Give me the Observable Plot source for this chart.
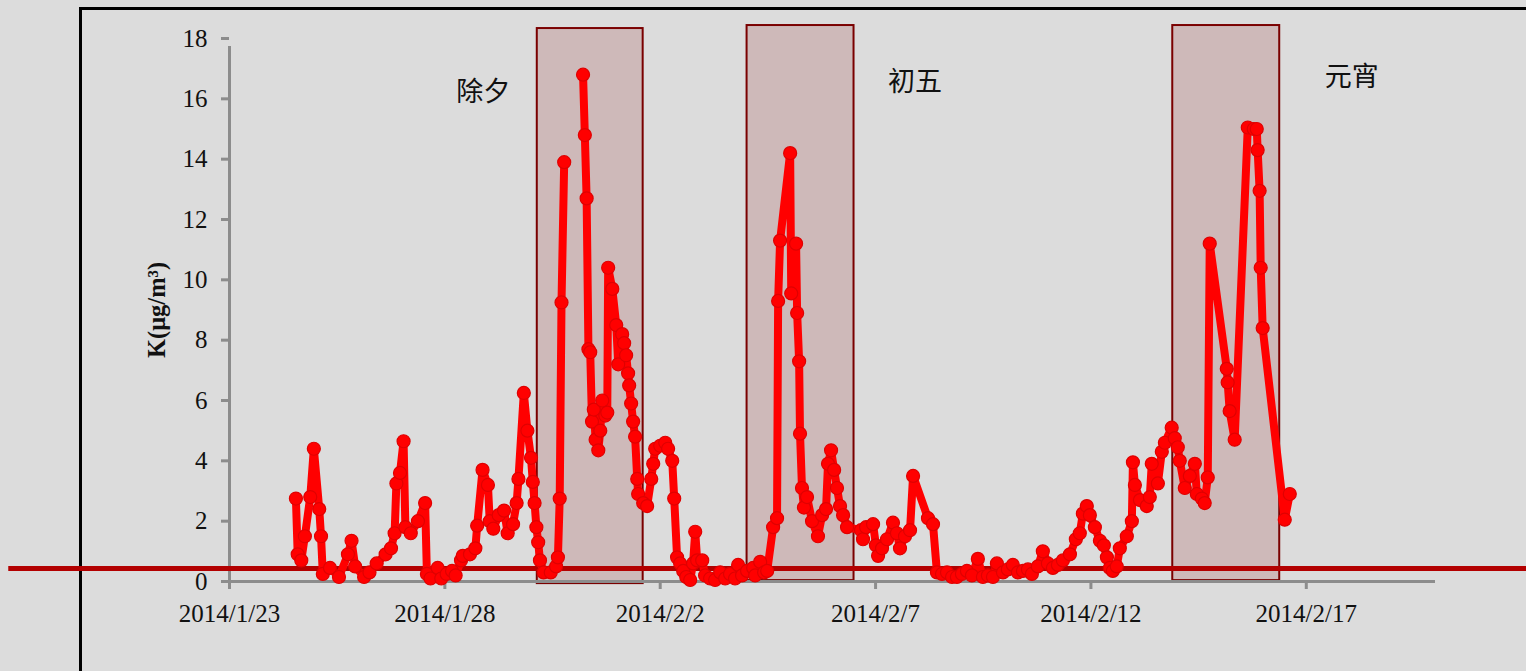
<!DOCTYPE html>
<html>
<head>
<meta charset="utf-8">
<script src="https://cdn.jsdelivr.net/npm/d3@7"></script>
<script src="https://cdn.jsdelivr.net/npm/@observablehq/plot@0.6"></script>
<style>
  html, body { margin: 0; padding: 0; background: #dcdcdc; }
  #wrap { position: relative; width: 1526px; height: 671px; overflow: hidden;
          background: #dcdcdc; }
  #frame { position: absolute; left: 79px; top: 7px; right: -10px; bottom: -10px;
           border-left: 3px solid #000; border-top: 3px solid #000; }
  #chart { position: absolute; left: 0; top: 0; }
</style>
</head>
<body>
<div id="wrap"><div id="frame"></div><div id="chart"></div></div>
<script>
// Hours since 2014/1/23 00:00 and K concentration (µg/m³); null = gap in the record
const hours = [
  37,38,40,42,45,47,50,51,52,56,61,66,68,70,75,78,82,87,90,92,93,95,97,98,101,105,109,110,112,116,118,121,124,126,129,130,134,137,138,141,
  144,145,147,150,153,155,158,160,161,164,166,168,169,170,171,172,173,175,179,182,183,184,185,186.5,
  190,
  197,198,199,200,201,202,203,204,205.5,206.6,207.7,209.4,210.5,211,213.3,215.5,216.6,218.8,219.9,221,222.1,222.7,223.8,224.9,226,227.2,227.7,
  230.5,232.7,235,236.1,237.2,240,242.8,244.4,246.7,247.8,249.4,251.1,252.8,254.5,256.7,258.3,259.5,260.6,263.4,265,267.8,270.6,273.4,
  276.2,278.9,281.7,283.4,285.6,288.4,291.8,292.9,295.7,297.9,299.6,302.9,305.1,305.7,306.8,312.4,313,315.7,316.3,317.4,317.9,319,320.1,
  321.8,324.6,327.9,330.2,332.4,333.5,335.2,336.9,338.5,340.2,341.9,344.1,351.9,353,354.7,358.6,360.2,361.4,363.6,366.4,369.7,371.9,
  373.6,376.4,379.2,380.9,389.2,392,394.2,397,399.8,402.6,405.3,408.1,410.9,413.7,417,419.8,422.6,425.4,427.6,431,433.7,436.5,439.3,
  442.1,444.9,447.1,450.4,453.2,456,458.8,461.6,464.4,468.3,471.6,473.8,475.5,477.7,479.4,482.2,485,487.2,488.9,490.5,492.2,494.4,
  496.1,500,502.8,503.4,504.5,507.3,511.1,512.8,513.9,517.3,519.5,521.2,525,526.7,528.4,529.5,532.3,535.1,537.9,539,541.8,543.4,545.1,
  546.2,555.7,556.2,557.3,560.1,567.4,570.7,572.4,572.9,574,574.6,575.7,588,590.8
];
const kValues = [
  2.75,0.9,0.7,1.5,2.8,4.4,2.4,1.5,0.25,0.45,0.15,0.9,1.35,0.5,0.15,0.3,0.6,0.9,1.1,1.6,3.25,3.6,4.65,1.8,1.6,2.0,2.6,0.25,0.1,0.45,0.1,0.25,0.35,0.2,0.7,0.85,0.9,1.1,1.85,3.7,
  3.2,2.0,1.75,2.2,2.35,1.6,1.9,2.6,3.4,6.25,5.0,4.1,3.3,2.6,1.8,1.3,0.7,0.3,0.3,0.5,0.8,2.75,9.25,13.9,
  null,
  16.8,14.8,12.7,7.7,7.6,5.3,5.7,4.7,4.35,5.0,6.0,5.5,5.6,10.4,9.7,8.5,7.2,8.2,7.9,7.5,6.9,6.5,5.9,5.3,4.8,3.4,2.9,
  2.6,2.5,3.4,3.9,4.4,4.5,4.6,4.4,4.0,2.75,0.8,0.6,0.35,0.15,0.05,0.6,1.65,0.7,0.7,0.2,0.1,0.05,0.3,
  0.1,0.25,0.1,0.55,0.2,0.35,0.45,0.2,0.65,0.3,0.35,1.8,2.1,9.3,11.3,14.2,9.55,11.2,8.9,7.3,4.9,3.1,2.45,
  2.8,2.0,1.5,2.2,2.4,3.9,4.35,3.7,3.1,2.5,2.2,1.8,1.7,1.4,1.8,1.9,1.2,0.85,1.1,1.4,1.95,1.6,
  1.1,1.5,1.7,3.5,2.1,1.9,0.3,0.25,0.3,0.15,0.15,0.25,0.35,0.2,0.75,0.15,0.2,0.15,0.6,0.3,0.4,0.55,0.3,
  0.35,0.4,0.25,0.5,1.0,0.6,0.45,0.55,0.7,0.9,1.4,1.6,2.25,2.5,2.2,1.8,1.35,1.2,0.8,0.45,0.35,0.5,
  1.1,1.5,2.0,3.95,3.2,2.7,2.5,2.8,3.9,3.25,4.3,4.6,5.1,4.75,4.45,4.0,3.1,3.5,3.9,2.9,2.75,2.6,3.45,
  11.2,7.05,6.6,5.65,4.7,15.05,15.0,15.0,14.3,12.95,10.4,8.4,2.05,2.9
];
// Highlighted holiday windows (hours since start) and their labels
const boxLabels = ["除夕", "初五", "元宵"];
const boxStartHours = [171.5, 288.4, 525.6];
const boxEndHours = [230.5, 348.0, 585.2];
const boxTop = [18.33, 18.43, 18.43];
const boxBottom = [-0.07, 0.03, 0.03];
const labelHours = [141.4, 382, 625.3];
const labelY = [16.2, 16.55, 16.7];
const thresholdK = 0.43;
const yTicks = [0, 2, 4, 6, 8, 10, 12, 14, 16, 18];
const xTickLabels = ["2014/1/23", "2014/1/28", "2014/2/2", "2014/2/7", "2014/2/12", "2014/2/17"];

const start = new Date(Date.UTC(2014, 0, 23));
const toDate = h => new Date(start.getTime() + h * 3600 * 1000);
const data = hours.map((h, i) => ({date: toDate(h), k: kValues[i]}));
const dots = data.filter(d => d.k != null);
const boxes = boxLabels.map((l, i) => ({
  label: l, x1: toDate(boxStartHours[i]), x2: toDate(boxEndHours[i]),
  y1: boxBottom[i], y2: boxTop[i], lx: toDate(labelHours[i]), ly: labelY[i]
}));
const xTicks = xTickLabels.map(s => {
  const [y, m, d] = s.split("/").map(Number);
  return {date: new Date(Date.UTC(y, m - 1, d)), label: s};
});
const xStart = start, xEnd = new Date(Date.UTC(2014, 1, 20));
const grey = "#8c8c8c";
const serif = "'Liberation Serif', 'DejaVu Serif', serif";

const chart = Plot.plot({
  width: 1526,
  height: 671,
  marginLeft: 229,
  marginRight: 91,
  marginTop: 38,
  marginBottom: 90,
  style: {background: "transparent", fontFamily: serif, overflow: "visible", color: "#111"},
  x: {type: "utc", domain: [xStart, xEnd], axis: null},
  y: {domain: [0, 18], axis: null},
  marks: [
    // holiday boxes
    Plot.rect(boxes, {x1: "x1", x2: "x2", y1: "y1", y2: "y2",
      fill: "#a04040", fillOpacity: 0.22, stroke: "#7a0000", strokeWidth: 2}),
    // axis lines
    Plot.ruleX([xStart], {y1: 0, y2: 18, stroke: grey, strokeWidth: 3, insetBottom: -8}),
    Plot.ruleY([0], {x1: xStart, x2: xEnd, stroke: grey, strokeWidth: 3}),
    // y ticks and labels
    Plot.ruleY(yTicks, {y: d => d, x1: xStart, x2: xStart, insetLeft: -8, stroke: grey, strokeWidth: 3}),
    Plot.text(yTicks, {y: d => d, x: xStart, text: d => String(d), dx: -22, textAnchor: "end",
      fontSize: 25, fill: "#111"}),
    // x ticks and labels
    Plot.ruleX(xTicks, {x: "date", y1: 0, y2: 0, insetBottom: -8, stroke: grey, strokeWidth: 3}),
    Plot.text(xTicks, {x: "date", y: 0, text: "label", dy: 32, fontSize: 25, fill: "#111"}),
    // threshold line across the whole picture
    Plot.ruleY([thresholdK], {x1: toDate(-123), x2: toDate(730), stroke: "#b30000", strokeWidth: 5}),
    // series
    Plot.line(data, {x: "date", y: "k", stroke: "#ff0000", strokeWidth: 8, strokeLinejoin: "round", curve: "linear"}),
    Plot.dot(dots, {x: "date", y: "k", r: 6.5, fill: "#ff0000", stroke: "#e00000", strokeWidth: 1.2}),
    // holiday labels
    Plot.text(boxes, {x: "lx", y: "ly", text: "label", fontSize: 27, fill: "#111",
      fontFamily: "'Noto Sans CJK SC', sans-serif"}),
    // y axis title
    Plot.text(["K(μg/m³)"], {x: xStart, y: 9.0, dx: -72, rotate: -90, fontSize: 24.5,
      fontWeight: "bold", fill: "#111"})
  ]
});
document.getElementById("chart").appendChild(chart);
</script>
</body>
</html>
